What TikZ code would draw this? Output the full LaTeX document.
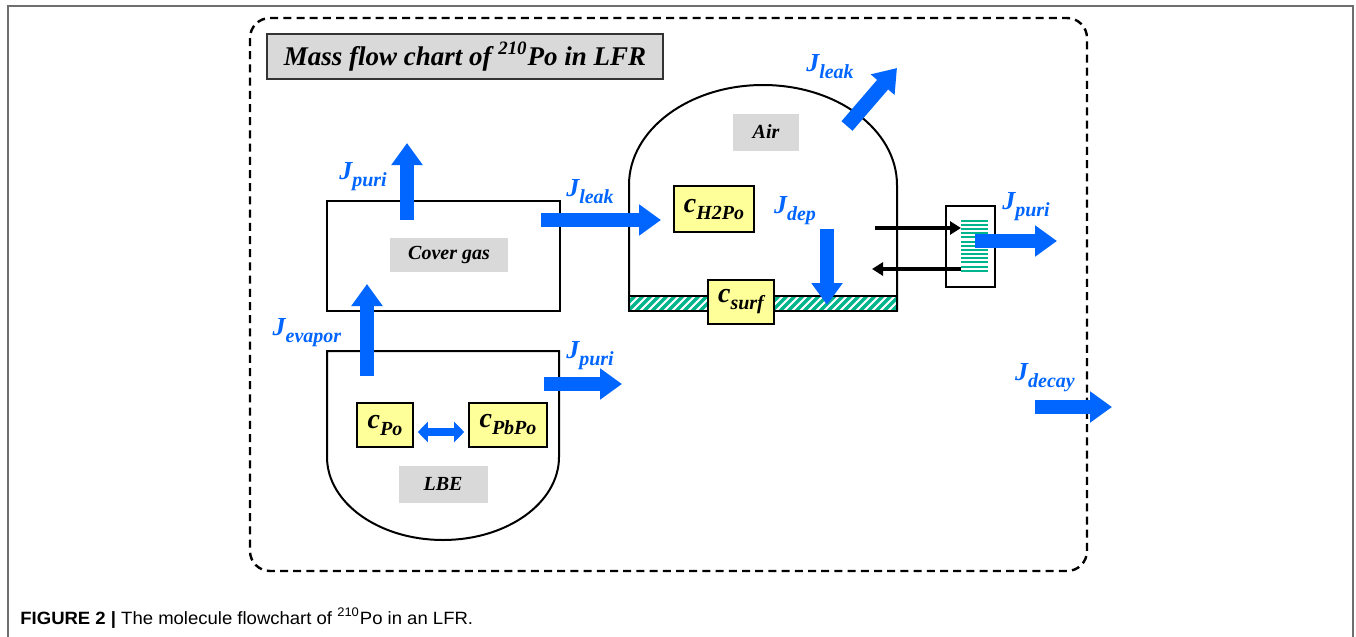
\documentclass[tikz,border=0pt]{standalone}
\usepackage{fontspec}
\setmainfont{Liberation Serif}
\newfontfamily\capfont{Liberation Sans}[FakeStretch=1.04]
\usetikzlibrary{arrows.meta,positioning}
\definecolor{fluxblue}  {RGB}{  0,102,255}
\definecolor{concyellow}{RGB}{255,255,153}
\definecolor{taggray}   {RGB}{217,217,217}
\definecolor{hatchteal} {RGB}{  0,180,140}
\definecolor{framegray} {RGB}{110,110,110}
\newcommand{\fluxlab}[1]{J\raisebox{-3.5pt}{\fontsize{10}{10}\selectfont #1}}
\newcommand{\conclab}[1]{c\raisebox{-3.5pt}{\fontsize{10}{10}\selectfont #1}}

\begin{document}
\begin{tikzpicture}[
    x=0.5pt, y=-0.5pt,
    vessel/.style={draw, line width=1pt},
    tag/.style={fill=taggray, inner sep=0pt, font=\fontsize{10}{11}\selectfont\bfseries\itshape},
    conc/.style={draw, line width=0.8pt, fill=concyellow, inner sep=0pt, minimum height=22pt, font=\fontsize{14}{14}\selectfont\bfseries\itshape},
    fluxarrow/.style={draw=fluxblue, line width=7.3pt, -{Triangle[width=15pt,length=11pt]}},
    fluxtext/.style={text=fluxblue, inner sep=0pt, font=\fontsize{13}{14}\selectfont\bfseries\itshape},
    backflow/.style={draw, line width=1.6pt, -{Triangle[width=6.5pt,length=5.5pt]}}
]
    \useasboundingbox (0,0) rectangle (1356,637);
    % Page frame and caption
    \draw[framegray, line width=1pt] (8,637) -- (8,6) -- (1353,6) -- (1353,637);
    \node[anchor=base west, inner sep=0pt, font=\capfont\fontsize{8.9}{10}\selectfont] (caption) at (20,624)
        {\textbf{FIGURE 2 |} The molecule flowchart of \textsuperscript{210}Po in an LFR.};

    % System boundary
    \draw[line width=1.2pt, dash pattern=on 4pt off 2.6pt, rounded corners=10pt] (250,18) rectangle (1087,571);
    \node[draw=black!80, line width=0.8pt, fill=taggray, minimum width=198pt, minimum height=22.5pt, inner sep=0pt,
          font=\fontsize{13.5}{14}\selectfont\bfseries\itshape] (title) at (465,56.5)
        {Mass flow chart of \textsuperscript{210}Po in LFR};

    % Cover gas
    \node[vessel, minimum width=116.5pt, minimum height=55pt] (covergas) at (443.5,256) {};
    \node[tag, minimum width=59pt, minimum height=17pt] (covertag) at (449,255) {Cover gas};

    % LBE pool
    \draw[vessel] (559,351) -- (327,351) -- (327,457)
        arc[start angle=180, end angle=360, x radius=58pt, y radius=41.5pt] -- cycle;
    \node[conc, minimum width=28pt] (cpo) at (385,425) {\conclab{Po}};
    \node[conc, minimum width=39pt] (cpbpo) at (508,425) {\conclab{PbPo}};
    \node[tag, minimum width=44.5pt, minimum height=18.5pt] (lbetag) at (443,484) {LBE};
    \draw[fluxblue, line width=3.8pt, {Triangle[width=10pt,length=5pt]}-{Triangle[width=10pt,length=5pt]},
          shorten <=2pt, shorten >=2pt] ([yshift=-3.5pt]cpo.east) -- ([yshift=-3.5pt]cpbpo.west);

    % Air room
    \draw[vessel] (629,311) -- (629,185)
        arc[start angle=180, end angle=0, x radius=67pt, y radius=50pt] -- (897,311);
    \begin{scope}
        \clip (629,296) rectangle (897,311);
        \foreach \x in {612,620,...,900}
            \draw[hatchteal, line width=1.6pt] (\x,311) -- ++(16,-16);
    \end{scope}
    \node[vessel, minimum width=134pt, minimum height=7.5pt, inner sep=0pt] (surface) at (763,303.5) {};
    \node[tag, minimum width=33pt, minimum height=18.5pt] (airtag) at (766,132) {Air};
    \node[conc, minimum width=40pt, minimum height=23pt] (ch2po) at (714,209) {\conclab{H2Po}};
    \node[conc, minimum width=33pt] (csurf) at (741,302) {\conclab{surf}};

    % Purification unit
    \node[vessel, minimum width=24.5pt, minimum height=40.5pt] (filter) at (970.5,246.5) {};
    \foreach \i in {0,...,12}
        \draw[hatchteal, line width=1pt] (961,{220.7+4.17*\i}) -- (988,{220.7+4.17*\i});

    % Flux end points
    \coordinate (evapS) at (367,376);  \coordinate (evapE) at (367,284);
    \coordinate (cpuriS) at (407,220); \coordinate (cpuriE) at (407,143);
    \coordinate (lpuriS) at (544,384); \coordinate (lpuriE) at (622,384);
    \coordinate (leakS) at (541,220);  \coordinate (leakE) at (661,220);
    \coordinate (aleakS) at (847,126); \coordinate (aleakE) at (897,68);
    \coordinate (depS) at (827,229);   \coordinate (depE) at (827,305);
    \coordinate (fpuriS) at (975,241); \coordinate (fpuriE) at (1057,241);
    \coordinate (decayS) at (1035,407);\coordinate (decayE) at (1112,407);
    \coordinate (toF) at (875,228);    \coordinate (fromF) at (872,269);

    % Fluxes
    \draw[fluxarrow] (evapS) -- (evapE);
    \draw[fluxarrow] (cpuriS) -- (cpuriE);
    \draw[fluxarrow] (lpuriS) -- (lpuriE);
    \draw[fluxarrow] (leakS) -- (leakE);
    \draw[fluxarrow] (aleakS) -- (aleakE);
    \draw[fluxarrow] (depS) -- (depE);
    \draw[fluxarrow] (fpuriS) -- (fpuriE);
    \draw[fluxarrow] (decayS) -- (decayE);
    \draw[backflow] (toF) -- (961,228);
    \draw[backflow] (961,269) -- (fromF);

    % Flux labels
    \node[fluxtext] (jevapor) at (307,333) {\fluxlab{evapor}};
    \node[fluxtext] (jpuric) at (363,177) {\fluxlab{puri}};
    \node[fluxtext] (jpuril) at (590,356) {\fluxlab{puri}};
    \node[fluxtext] (jleakc) at (590,192) {\fluxlab{leak}};
    \node[fluxtext] (jleaka) at (830,67) {\fluxlab{leak}};
    \node[fluxtext] (jdep) at (795,211) {\fluxlab{dep}};
    \node[fluxtext] (jpurif) at (1026,207) {\fluxlab{puri}};
    \node[fluxtext] (jdecay) at (1045,378) {\fluxlab{decay}};
\end{tikzpicture}
\end{document}
